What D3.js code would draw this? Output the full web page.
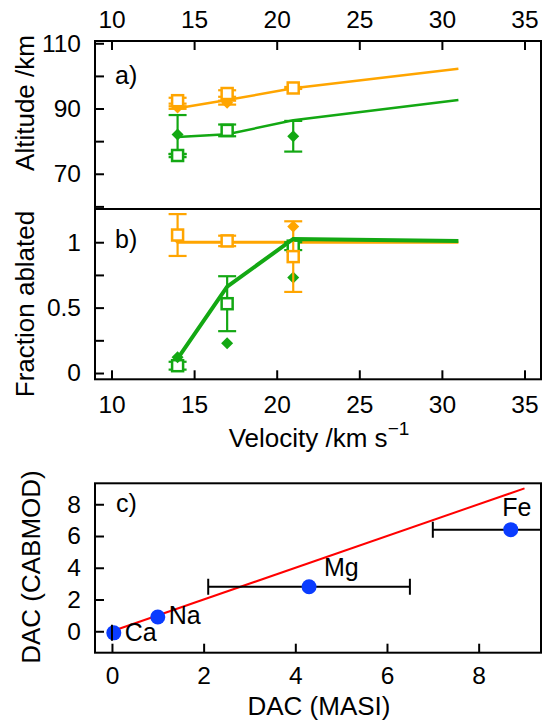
<!DOCTYPE html>
<html>
<head>
<meta charset="utf-8">
<script src="https://cdn.jsdelivr.net/npm/d3@7"></script>
<style>
body { margin:0; background:#fff; }
text { font-family: "Liberation Sans", Arial, sans-serif; fill:#000; }
</style>
</head>
<body>
<div id="chart"></div>
<script>
// panel a/b: velocity of the meteoroid
var velocity = [14, 17, 21];
var modelVelocity = [14, 17, 21, 31];

var altOrangeModel = [90.1, 92.6, 96.2, 102.2];
var altGreenModel = [81.3, 82.1, 86.4, 92.6];
var altOrangeSquare = [92.4, 94.6, 96.3];
var altOrangeSquareErr = [0.9, 1.0, 0.3];
var altOrangeDiamond = [90.3, 91.8, null];
var altOrangeDiamondErr = [0.4, 0.6, null];
var altGreenSquare = [75.6, 83.3, null];
var altGreenSquareErr = [0.5, 1.8, null];
var altGreenDiamond = [82.0, null, 81.5];
var altGreenDiamondErr = [6.0, null, 4.7];

var fracOrangeModel = [1.0, 1.0, 1.0, 1.0];
var fracGreenModel = [0.11, 0.66, 1.025, 1.01];
var fracOrangeSquare = [1.055, 1.01, 0.89];
var fracOrangeSquareErr = [0.16, 0.04, 0.27];
var fracOrangeDiamond = [1.03, 1.01, 1.12];
var fracGreenSquare = [0.056, 0.53, 0.97];
var fracGreenSquareErr = [0.03, 0.21, 0.03];
var fracGreenDiamond = [0.12, 0.227, 0.73];

// panel c
var elements = ["Ca", "Na", "Mg", "Fe"];
var dacMasi = [0.04, 1.0, 4.3, 8.7];
var dacCabmod = [-0.1, 0.9, 2.8, 6.4];
var masiLow = [0.0, null, 2.1, 7.0];
var masiHigh = [0.08, null, 6.5, 10.4];
var fitX = [0, 9];
var fitY = [0, 9];

var velTicks = [10, 15, 20, 25, 30, 35];
var altTicks = [60, 70, 80, 90, 100, 110];
var altLabels = [70, 90, 110];
var fracTicks = [0, 0.25, 0.5, 0.75, 1];
var fracLabels = [0, 0.5, 1];
var dacTicks = [0, 2, 4, 6, 8];

(function(){
	var width = 542,
	height = 721;

	var orange = "#ffa500",
	green = "#13a813",
	blue = "#0a3cff";

	var svg = d3.select("#chart")
	.append("svg")
	.attr("width", width)
	.attr("height", height)

	var left = 95, right = 541;

	var x = d3.scaleLinear().domain([9, 36]).range([left, right])
	var yA = d3.scaleLinear().domain([59.2, 110.7]).range([209, 41])
	var yB = d3.scaleLinear().domain([-0.048, 1.254]).range([379.3, 209])
	var xC = d3.scaleLinear().domain([-0.37, 9.36]).range([left, right])
	var yC = d3.scaleLinear().domain([-1.35, 9.32]).range([652.7, 483.3])

	function styleAxis(g) {
		g.select(".domain").remove()
		g.selectAll(".tick line").attr("stroke", "#000").attr("stroke-width", 2)
		g.selectAll(".tick text").attr("font-size", 24.5).attr("font-family", "Liberation Sans, Arial, sans-serif").attr("fill", "#000")
	}

	// axes
	svg.append("g")
		.attr("transform", "translate(0,41)")
		.call(d3.axisTop(x).tickValues(velTicks).tickSizeInner(-9).tickSizeOuter(0).tickPadding(13))
		.call(styleAxis)

	svg.append("g")
		.attr("transform", "translate(0,379.3)")
		.call(d3.axisBottom(x).tickValues(velTicks).tickSizeInner(-9).tickSizeOuter(0).tickPadding(16))
		.call(styleAxis)

	svg.append("g")
		.attr("transform", "translate(" + left + ",0)")
		.call(d3.axisLeft(yA).tickValues(altTicks).tickSizeInner(-9).tickSizeOuter(0).tickPadding(14)
			.tickFormat(function(d){ return altLabels.indexOf(d) >= 0 ? d : ""; }))
		.call(styleAxis)

	svg.append("g")
		.attr("transform", "translate(" + left + ",0)")
		.call(d3.axisLeft(yB).tickValues(fracTicks).tickSizeInner(-9).tickSizeOuter(0).tickPadding(14)
			.tickFormat(function(d){ return fracLabels.indexOf(d) >= 0 ? d : ""; }))
		.call(styleAxis)

	svg.append("g")
		.attr("transform", "translate(0,652.7)")
		.call(d3.axisBottom(xC).tickValues(dacTicks).tickSizeInner(-9).tickSizeOuter(0).tickPadding(14))
		.call(styleAxis)

	svg.append("g")
		.attr("transform", "translate(" + left + ",0)")
		.call(d3.axisLeft(yC).tickValues(dacTicks).tickSizeInner(-9).tickSizeOuter(0).tickPadding(14))
		.call(styleAxis)

	// frames
	svg.append("rect")
		.attr("x", left).attr("y", 41)
		.attr("width", right - left).attr("height", 379.3 - 41)
		.attr("fill", "none").attr("stroke", "#000").attr("stroke-width", 2)
	svg.append("line")
		.attr("x1", left).attr("x2", right).attr("y1", 209).attr("y2", 209)
		.attr("stroke", "#000").attr("stroke-width", 2)
	svg.append("rect")
		.attr("x", left).attr("y", 483.3)
		.attr("width", right - left).attr("height", 652.7 - 483.3)
		.attr("fill", "none").attr("stroke", "#000").attr("stroke-width", 2)

	function pts(xs, ys, errs) {
		return xs.map(function(v, i){
			return {x: v, y: ys[i], e: errs ? errs[i] : null};
		}).filter(function(d){ return d.y != null; })
	}

	function drawLine(xs, ys, yScale, color, w) {
		svg.append("path")
			.datum(pts(xs, ys))
			.attr("fill", "none")
			.attr("stroke", color)
			.attr("stroke-width", w)
			.attr("d", d3.line().x(function(d){ return x(d.x); }).y(function(d){ return yScale(d.y); }))
	}

	function drawErr(data, yScale, color) {
		var g = svg.append("g").attr("stroke", color).attr("stroke-width", 2.2)
		data.filter(function(d){ return d.e; }).forEach(function(d){
			var cx = x(d.x);
			g.append("line").attr("x1", cx).attr("x2", cx)
				.attr("y1", yScale(d.y - d.e)).attr("y2", yScale(d.y + d.e))
			g.append("line").attr("x1", cx - 9).attr("x2", cx + 9)
				.attr("y1", yScale(d.y - d.e)).attr("y2", yScale(d.y - d.e))
			g.append("line").attr("x1", cx - 9).attr("x2", cx + 9)
				.attr("y1", yScale(d.y + d.e)).attr("y2", yScale(d.y + d.e))
		})
	}

	function drawSquares(data, yScale, color) {
		svg.append("g").selectAll("rect")
			.data(data)
			.enter().append("rect")
			.attr("x", function(d){ return x(d.x) - 5.5; })
			.attr("y", function(d){ return yScale(d.y) - 5.5; })
			.attr("width", 11).attr("height", 11)
			.attr("fill", "#fff")
			.attr("stroke", color)
			.attr("stroke-width", 2.5)
	}

	function drawDiamonds(data, yScale, color) {
		svg.append("g").selectAll("path")
			.data(data)
			.enter().append("path")
			.attr("transform", function(d){ return "translate(" + x(d.x) + "," + yScale(d.y) + ")"; })
			.attr("d", "M0,-6L6,0L0,6L-6,0Z")
			.attr("fill", color)
	}

	// panel a
	drawLine(modelVelocity, altOrangeModel, yA, orange, 2.5)
	drawLine(modelVelocity, altGreenModel, yA, green, 2.5)
	drawErr(pts(velocity, altOrangeDiamond, altOrangeDiamondErr), yA, orange)
	drawErr(pts(velocity, altOrangeSquare, altOrangeSquareErr), yA, orange)
	drawErr(pts(velocity, altGreenDiamond, altGreenDiamondErr), yA, green)
	drawErr(pts(velocity, altGreenSquare, altGreenSquareErr), yA, green)
	drawDiamonds(pts(velocity, altOrangeDiamond), yA, orange)
	drawSquares(pts(velocity, altOrangeSquare), yA, orange)
	drawSquares(pts(velocity, altGreenSquare), yA, green)
	drawDiamonds(pts(velocity, altGreenDiamond), yA, green)

	// panel b
	drawLine(modelVelocity, fracOrangeModel, yB, orange, 3)
	drawErr(pts(velocity, fracGreenSquare, fracGreenSquareErr), yB, green)
	drawSquares(pts(velocity, fracGreenSquare), yB, green)
	drawDiamonds(pts(velocity, fracGreenDiamond), yB, green)
	drawErr(pts(velocity, fracOrangeSquare, fracOrangeSquareErr), yB, orange)
	drawDiamonds(pts(velocity, fracOrangeDiamond), yB, orange)
	drawSquares(pts(velocity, fracOrangeSquare), yB, orange)
	drawLine(modelVelocity, fracGreenModel, yB, green, 4)

	// panel c
	var clip = svg.append("clipPath").attr("id", "clipC")
	clip.append("rect").attr("x", left).attr("y", 483.3).attr("width", right - left).attr("height", 652.7 - 483.3)

	var pc = svg.append("g").attr("clip-path", "url(#clipC)")

	var cData = elements.map(function(name, i){
		return {name: name, x: dacMasi[i], y: dacCabmod[i], lo: masiLow[i], hi: masiHigh[i]};
	})

	pc.append("path")
		.datum(fitX.map(function(v, i){ return [v, fitY[i]]; }))
		.attr("fill", "none")
		.attr("stroke", "#ff0000")
		.attr("stroke-width", 2)
		.attr("d", d3.line().x(function(d){ return xC(d[0]); }).y(function(d){ return yC(d[1]); }))

	var withErr = cData.filter(function(d){ return d.lo != null; })

	pc.selectAll(".hbar")
		.data(withErr)
		.enter().append("line")
		.attr("class", "hbar")
		.attr("x1", function(d){ return xC(d.lo); })
		.attr("x2", function(d){ return xC(d.hi); })
		.attr("y1", function(d){ return yC(d.y); })
		.attr("y2", function(d){ return yC(d.y); })
		.attr("stroke", "#000")
		.attr("stroke-width", 2)

	pc.selectAll(".dot")
		.data(cData)
		.enter().append("circle")
		.attr("class", "dot")
		.attr("cx", function(d){ return xC(d.x); })
		.attr("cy", function(d){ return yC(d.y); })
		.attr("r", 7.5)
		.attr("fill", blue)

	var caps = withErr.reduce(function(a, d){
		a.push({x: d.lo, y: d.y});
		a.push({x: d.hi, y: d.y});
		return a;
	}, []).filter(function(c, i){ return i % 2 == 0 || c.x - 0.1 > 0.2; })

	pc.selectAll(".cap")
		.data(caps)
		.enter().append("line")
		.attr("class", "cap")
		.attr("x1", function(d){ return xC(d.x); })
		.attr("x2", function(d){ return xC(d.x); })
		.attr("y1", function(d){ return yC(d.y) - 8; })
		.attr("y2", function(d){ return yC(d.y) + 8; })
		.attr("stroke", "#000")
		.attr("stroke-width", 2)

	var labelOffset = {Ca: [11, 8.5], Na: [11, 7.5], Mg: [15, -10.5], Fe: [-8.5, -13.5]};

	svg.selectAll(".elabel")
		.data(cData)
		.enter().append("text")
		.attr("class", "elabel")
		.attr("x", function(d){ return xC(d.x) + labelOffset[d.name][0]; })
		.attr("y", function(d){ return yC(d.y) + labelOffset[d.name][1]; })
		.attr("font-size", 25)
		.text(function(d){ return d.name; })

	// panel letters
	svg.append("text").attr("x", 115).attr("y", 84).attr("font-size", 25).text("a)")
	svg.append("text").attr("x", 115).attr("y", 248).attr("font-size", 25).text("b)")
	svg.append("text").attr("x", 116).attr("y", 512).attr("font-size", 25).text("c)")

	// axis titles
	svg.append("text")
		.attr("transform", "translate(34,103) rotate(-90)")
		.attr("text-anchor", "middle")
		.attr("font-size", 26)
		.text("Altitude /km")

	svg.append("text")
		.attr("transform", "translate(34,304) rotate(-90)")
		.attr("text-anchor", "middle")
		.attr("font-size", 26)
		.text("Fraction ablated")

	svg.append("text")
		.attr("transform", "translate(40,567) rotate(-90)")
		.attr("text-anchor", "middle")
		.attr("font-size", 26)
		.text("DAC (CABMOD)")

	var vt = svg.append("text")
		.attr("x", 319)
		.attr("y", 447)
		.attr("text-anchor", "middle")
		.attr("font-size", 26)
	vt.append("tspan").text("Velocity /km s")
	vt.append("tspan").attr("dy", -12).attr("font-size", 19).text("\u22121")

	svg.append("text")
		.attr("x", 319)
		.attr("y", 715)
		.attr("text-anchor", "middle")
		.attr("font-size", 26)
		.text("DAC (MASI)")

})();
</script>
</body>
</html>
